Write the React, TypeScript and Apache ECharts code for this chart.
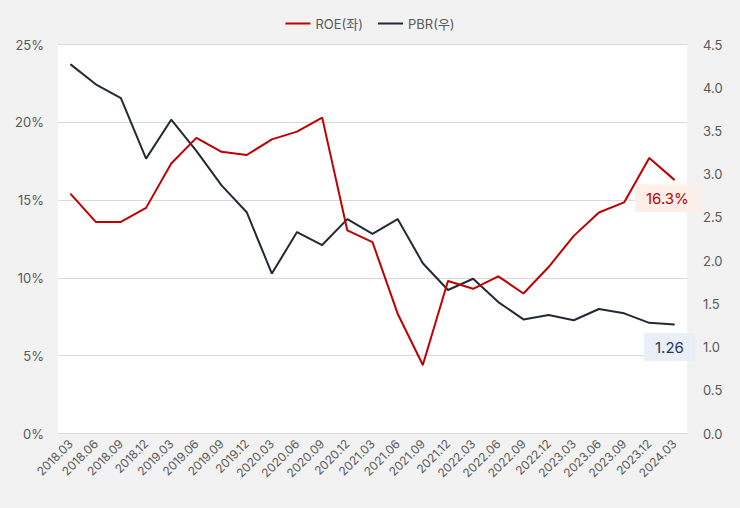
import React, { useEffect, useRef } from "react";
import * as echarts from "echarts";

const categories = [
  "2018.03", "2018.06", "2018.09", "2018.12",
  "2019.03", "2019.06", "2019.09", "2019.12",
  "2020.03", "2020.06", "2020.09", "2020.12",
  "2021.03", "2021.06", "2021.09", "2021.12",
  "2022.03", "2022.06", "2022.09", "2022.12",
  "2023.03", "2023.06", "2023.09", "2023.12",
  "2024.03",
];

const roeValues = [
  15.4, 13.6, 13.6, 14.5,
  17.35, 19.0, 18.1, 17.9,
  18.9, 19.4, 20.3, 13.05,
  12.3, 7.7, 4.4, 9.8,
  9.3, 10.1, 9.0, 10.7,
  12.7, 14.2, 14.85, 17.7,
  16.3,
];

const pbrValues = [
  4.27, 4.04, 3.88, 3.18,
  3.63, 3.27, 2.87, 2.56,
  1.85, 2.33, 2.18, 2.48,
  2.31, 2.48, 1.97, 1.66,
  1.79, 1.52, 1.32, 1.37,
  1.31, 1.44, 1.39, 1.28,
  1.26,
];

const legendNames = ["ROE(좌)", "PBR(우)"];

const FONT = "Inter, 'Noto Sans CJK KR', sans-serif";
const RED = "#c00000";
const NAVY = "#222a35";

export default function App() {
  const ref = useRef<HTMLDivElement>(null);

  useEffect(() => {
    document.body.style.margin = "0";
    const chart = echarts.init(ref.current!, undefined, { renderer: "svg" });
    const last = categories.length - 1;

    const roeData = roeValues.map((v, i) =>
      i === last
        ? {
            value: v,
            label: {
              show: true,
              position: "bottom",
              distance: 4,
              offset: [-7, 0],
              formatter: (p: any) => Number(p.value).toFixed(1) + "%",
              color: RED,
              fontSize: 15,
              fontFamily: FONT,
              backgroundColor: "#fbefe7",
              padding: [7, 11, 6, 11],
            },
          }
        : v
    );
    const pbrData = pbrValues.map((v, i) =>
      i === last
        ? {
            value: v,
            label: {
              show: true,
              position: "bottom",
              distance: 8,
              offset: [-5, 0],
              formatter: (p: any) => Number(p.value).toFixed(2),
              color: "#1f3864",
              fontSize: 15,
              fontFamily: FONT,
              backgroundColor: "#e9eef7",
              padding: [7, 11, 6, 11],
            },
          }
        : v
    );

    chart.setOption({
      animation: false,
      backgroundColor: "#f2f2f2",
      textStyle: { fontFamily: FONT },
      legend: {
        top: 12,
        left: "center",
        itemWidth: 25,
        itemHeight: 2,
        itemGap: 15,
        icon: "rect",
        textStyle: { color: "#595959", fontSize: 13, fontFamily: FONT },
        data: legendNames,
      },
      grid: {
        left: 58,
        right: 53,
        top: 44.5,
        bottom: 74.5,
        show: true,
        backgroundColor: "#ffffff",
        borderWidth: 0,
      },
      xAxis: {
        type: "category",
        data: categories,
        boundaryGap: true,
        axisLine: { lineStyle: { color: "#d9d9d9" } },
        axisTick: { show: false },
        axisLabel: {
          rotate: 45,
          interval: 0,
          color: "#595959",
          fontSize: 12,
          fontFamily: FONT,
          margin: 8,
        },
      },
      yAxis: [
        {
          type: "value",
          min: 0,
          max: 25,
          interval: 5,
          axisLine: { show: false },
          axisTick: { show: false },
          splitLine: { lineStyle: { color: "#d9d9d9" } },
          axisLabel: {
            formatter: "{value}%",
            color: "#595959",
            fontSize: 13,
            fontFamily: FONT,
            margin: 14,
          },
        },
        {
          type: "value",
          min: 0,
          max: 4.5,
          interval: 0.5,
          axisLine: { show: false },
          axisTick: { show: false },
          splitLine: { show: false },
          axisLabel: {
            formatter: (v: number) => v.toFixed(1),
            color: "#595959",
            fontSize: 13,
            fontFamily: FONT,
            margin: 16,
          },
        },
      ],
      series: [
        {
          name: legendNames[0],
          type: "line",
          yAxisIndex: 0,
          data: roeData,
          symbol: "circle",
          symbolSize: 1,
          showSymbol: true,
          lineStyle: { color: RED, width: 2 },
          itemStyle: { color: RED },
          z: 3,
        },
        {
          name: legendNames[1],
          type: "line",
          yAxisIndex: 1,
          data: pbrData,
          symbol: "circle",
          symbolSize: 1,
          showSymbol: true,
          lineStyle: { color: NAVY, width: 2 },
          itemStyle: { color: NAVY },
          z: 2,
        },
      ],
    });

    return () => chart.dispose();
  }, []);

  return <div ref={ref} style={{ width: 740, height: 508 }} />;
}
